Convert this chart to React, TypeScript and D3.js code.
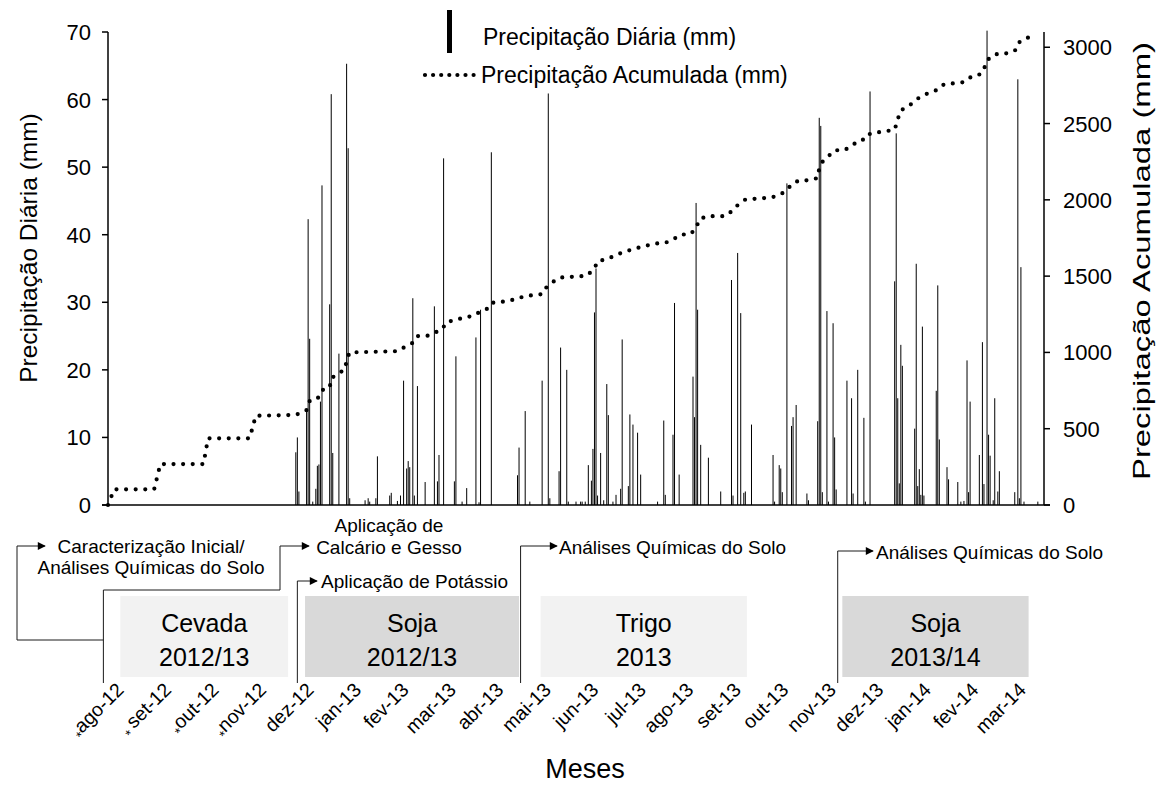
import React, { useEffect } from "react";
import * as d3 from "d3";

// ---------------- DATA ----------------
const dailyDates = [
  "2012-12-01","2012-12-02","2012-12-03","2012-12-08","2012-12-09","2012-12-10","2012-12-12","2012-12-14","2012-12-15","2012-12-16",
  "2012-12-17","2012-12-18","2012-12-23","2012-12-24","2012-12-25","2012-12-29","2013-01-03","2013-01-04","2013-01-05","2013-01-15",
  "2013-01-17","2013-01-18","2013-01-22","2013-01-23","2013-01-31","2013-02-01","2013-02-05","2013-02-07","2013-02-09","2013-02-11",
  "2013-02-12","2013-02-13","2013-02-15","2013-02-16","2013-02-18","2013-02-23","2013-03-01","2013-03-03","2013-03-04","2013-03-07",
  "2013-03-14","2013-03-15","2013-03-19","2013-03-22","2013-03-28","2013-03-30","2013-03-31","2013-04-07","2013-04-24","2013-04-25",
  "2013-04-29","2013-05-02","2013-05-10","2013-05-14","2013-05-15","2013-05-21","2013-05-22","2013-05-26","2013-05-27","2013-06-01",
  "2013-06-04","2013-06-05","2013-06-07","2013-06-09","2013-06-11","2013-06-12","2013-06-13","2013-06-14","2013-06-15","2013-06-17",
  "2013-06-19","2013-06-21","2013-06-22","2013-06-25","2013-06-27","2013-06-30","2013-07-01","2013-07-05","2013-07-06","2013-07-08",
  "2013-07-11","2013-07-13","2013-07-24","2013-07-28","2013-07-29","2013-08-03","2013-08-04","2013-08-07","2013-08-16","2013-08-17",
  "2013-08-18","2013-08-19","2013-08-21","2013-08-26","2013-09-03","2013-09-10","2013-09-11","2013-09-14","2013-09-16","2013-09-18",
  "2013-09-19","2013-09-23","2013-10-07","2013-10-08","2013-10-11","2013-10-12","2013-10-13","2013-10-16","2013-10-19","2013-10-20",
  "2013-10-22","2013-10-29","2013-10-30","2013-11-05","2013-11-06","2013-11-07","2013-11-08","2013-11-11","2013-11-12","2013-11-15",
  "2013-11-16","2013-11-17","2013-11-24","2013-11-27","2013-11-28","2013-12-01","2013-12-05","2013-12-06","2013-12-09","2013-12-25",
  "2013-12-26","2013-12-27","2013-12-28","2013-12-29","2013-12-30","2014-01-07","2014-01-08","2014-01-09","2014-01-10","2014-01-11",
  "2014-01-12","2014-01-13","2014-01-21","2014-01-22","2014-01-23","2014-01-28","2014-01-29","2014-02-04","2014-02-06","2014-02-08",
  "2014-02-10","2014-02-11","2014-02-12","2014-02-18","2014-02-20","2014-02-21","2014-02-23","2014-02-24","2014-02-25","2014-02-27",
  "2014-02-28","2014-03-02","2014-03-03","2014-03-13","2014-03-15","2014-03-16","2014-03-17","2014-03-19","2014-03-28"
];
const dailyValues = [
  7.8, 10, 2, 14.2, 42.3, 24.6, 0.5, 2.4, 5.8, 6,
  15.3, 47.3, 29.7, 60.8, 7.7, 22.4, 65.3, 52.8, 1, 0.7,
  1, 0.5, 1, 7.2, 1.4, 1.8, 0.6, 1.4, 18.4, 5.4,
  6.5, 5.6, 30.6, 1.4, 17.6, 3.4, 29.4, 3.5, 7.4, 51.3,
  3.5, 22, 0.5, 2.5, 24.8, 0.4, 28.9, 52.2, 4.4, 8.5,
  13.9, 0.5, 18.4, 60.9, 1, 5, 23.3, 20, 0.5, 0.5,
  0.5, 0.5, 0.5, 5.9, 3.6, 8.3, 28.5, 35, 1.4, 7.7,
  0.7, 17.9, 13.3, 0.5, 1.5, 2.4, 24.5, 2.8, 13.4, 11.9,
  10.7, 4.5, 0.5, 12.5, 1.5, 10.4, 29.9, 4.5, 19, 13,
  44.7, 28.9, 8.9, 7, 2, 33.3, 1.4, 37.3, 28.4, 1.8,
  2, 11.9, 7.4, 0.5, 5.9, 5.4, 1.9, 47.6, 11.7, 13,
  14.8, 1.7, 0.7, 12.4, 57.3, 56.1, 1.9, 28.7, 0.5, 26.9,
  10, 2.3, 18.4, 15.8, 1.7, 20, 12.9, 0.5, 61.2, 33.1,
  55, 15.8, 3.2, 23.7, 20.6, 11.3, 35.7, 2.8, 5.3, 1.5,
  26.4, 1.4, 16.9, 32.5, 9.7, 5.6, 3.8, 3.4, 0.5, 0.6,
  21.4, 1.9, 15.3, 7.4, 24.1, 3.1, 70.2, 10.4, 7.3, 0.7,
  15.8, 2, 5, 1.9, 63, 1, 35.2, 0.5, 0.5
];

const cumDates = [
  "2012-08-01","2012-08-05","2012-08-31","2012-09-04","2012-10-02","2012-10-05","2012-11-01","2012-11-05","2012-12-01","2012-12-08",
  "2012-12-10","2012-12-15","2012-12-18","2012-12-23","2012-12-24","2012-12-28","2013-01-02","2013-01-03","2013-01-05","2013-02-05",
  "2013-02-10","2013-02-15","2013-02-18","2013-02-24","2013-03-01","2013-03-06","2013-03-09","2013-03-15","2013-03-20","2013-03-26",
  "2013-03-30","2013-04-04","2013-04-07","2013-04-18","2013-04-24","2013-04-29","2013-05-10","2013-05-13","2013-05-17","2013-05-22",
  "2013-06-08","2013-06-13","2013-06-15","2013-06-21","2013-06-26","2013-07-01","2013-07-06","2013-07-12","2013-07-18","2013-07-23",
  "2013-07-29","2013-08-03","2013-08-08","2013-08-14","2013-08-18","2013-08-20","2013-08-25","2013-09-06","2013-09-11","2013-09-14",
  "2013-09-19","2013-10-06","2013-10-12","2013-10-16","2013-10-19","2013-10-24","2013-10-30","2013-11-05","2013-11-06","2013-11-08",
  "2013-11-12","2013-11-16","2013-11-22","2013-11-27","2013-12-01","2013-12-07","2013-12-09","2013-12-25","2013-12-27","2013-12-29",
  "2014-01-03","2014-01-07","2014-01-11","2014-01-16","2014-01-22","2014-01-26","2014-02-07","2014-02-11","2014-02-17","2014-02-21",
  "2014-02-22","2014-02-26","2014-03-03","2014-03-09","2014-03-14","2014-03-16","2014-03-21","2014-03-27"
];
const cumValues = [
  0, 103, 103, 268, 268, 437, 437, 585, 590, 622,
  681, 694, 753, 768, 830, 858, 889, 950, 1000, 1008,
  1037, 1063, 1107, 1107, 1128, 1151, 1200, 1212, 1229, 1238,
  1262, 1284, 1325, 1336, 1354, 1369, 1382, 1430, 1462, 1491,
  1502, 1550, 1598, 1611, 1633, 1655, 1670, 1688, 1703, 1714,
  1718, 1740, 1773, 1773, 1812, 1871, 1893, 1893, 1932, 1965,
  2002, 2015, 2037, 2063, 2102, 2128, 2128, 2143, 2205, 2248,
  2286, 2325, 2325, 2351, 2386, 2401, 2434, 2459, 2528, 2587,
  2613, 2648, 2678, 2700, 2722, 2757, 2770, 2800, 2813, 2847,
  2901, 2944, 2960, 2960, 2984, 3033, 3063, 3063
];

const monthLabels = [
  "*ago-12","* set-12","*out-12","*nov-12","dez-12","jan-13","fev-13","mar-13","abr-13","mai-13",
  "jun-13","jul-13","ago-13","set-13","out-13","nov-13","dez-13","jan-14","fev-14","mar-14"
];
// dates of the first and last labelled category on the axis
const firstLabelDate = "2012-08-12";
const lastLabelDate = "2014-03-21";

const leftTicks = [0, 10, 20, 30, 40, 50, 60, 70];
const rightTicks = [0, 500, 1000, 1500, 2000, 2500, 3000];

const cropNames = ["Cevada", "Soja", "Trigo", "Soja"];
const cropSeasons = ["2012/13", "2012/13", "2013", "2013/14"];
const cropStarts = ["2012-08-09", "2012-12-07", "2013-05-09", "2013-11-21"];
const cropEnds = ["2012-11-26", "2013-04-25", "2013-09-20", "2014-03-22"];
const cropFills = ["#f2f2f2", "#d9d9d9", "#f2f2f2", "#d9d9d9"];

const eventDates = ["2012-07-29", "2012-07-29", "2012-12-02", "2013-04-26", "2013-11-18"];
const eventLabels = [
  ["Caracterização Inicial/", "Análises Químicas do Solo"],
  ["Aplicação de", "Calcário e Gesso"],
  ["Aplicação de Potássio"],
  ["Análises Químicas do Solo"],
  ["Análises Químicas do Solo"]
];

// ---------------- CHART ----------------
const FONT = "'Liberation Sans', Arial, Helvetica, sans-serif";
const parse = d3.utcParse("%Y-%m-%d");
const P = { left: 108, right: 1044, top: 32, bottom: 505 };

export default function App() {
  useEffect(() => {
    document.body.style.margin = "0";
    document.body.style.overflow = "hidden";
  }, []);

  const x = d3.scaleUtc()
    .domain([parse("2012-08-01") as Date, parse("2014-04-01") as Date])
    .range([P.left, P.right]);
  const yL = d3.scaleLinear().domain([0, 70]).range([P.bottom, P.top]);
  const yR = d3.scaleLinear().domain([0, 3100]).range([P.bottom, P.top]);
  const xLab = d3.scalePoint<string>()
    .domain(monthLabels)
    .range([x(parse(firstLabelDate) as Date), x(parse(lastLabelDate) as Date)]);

  const cumPts: [Date, number][] = cumDates.map((d, i) => [parse(d) as Date, cumValues[i]]);
  const cumPath = d3.line<[Date, number]>().x(d => x(d[0])).y(d => yR(d[1]))(cumPts) || "";

  const ex = eventDates.map(d => x(parse(d) as Date));
  const conn = "#1a1a1a";

  return (
    <div style={{ position: "absolute", left: 0, top: 0 }}>
      <svg width={1169} height={787} fontFamily={FONT} style={{ display: "block" }}>
        <defs>
          <marker id="arr" viewBox="0 0 10 10" refX="9" refY="5" markerWidth="9" markerHeight="8"
            markerUnits="userSpaceOnUse" orient="auto">
            <path d="M0,0 L10,5 L0,10 z" fill="#000" />
          </marker>
        </defs>
        <rect width={1169} height={787} fill="#fff" />

        {/* daily bars */}
        <g>
          {dailyDates.map((d, i) => {
            const xx = x(parse(d) as Date);
            return (
              <line key={i} x1={xx} x2={xx} y1={yL(0)} y2={yL(dailyValues[i])}
                stroke="#000" strokeWidth={1} />
            );
          })}
        </g>

        {/* cumulative dotted line */}
        <path d={cumPath} fill="none" stroke="#000" strokeWidth={4.2}
          strokeLinecap="round" strokeDasharray="0 9.6" />

        {/* axes */}
        <line x1={P.left} x2={P.left} y1={P.top} y2={P.bottom} stroke="#000" strokeWidth={1.5} />
        <line x1={P.right} x2={P.right} y1={P.top} y2={P.bottom} stroke="#000" strokeWidth={1.5} />
        <line x1={P.left - 6} x2={P.right + 6} y1={P.bottom} y2={P.bottom} stroke="#000" strokeWidth={1.5} />
        {leftTicks.map(t => (
          <g key={"l" + t}>
            <line x1={P.left - 6} x2={P.left} y1={yL(t)} y2={yL(t)} stroke="#000" strokeWidth={1.5} />
            <text x={91} y={yL(t) + 8} textAnchor="end" fontSize={22} fill="#000">{t}</text>
          </g>
        ))}
        {rightTicks.map(t => (
          <g key={"r" + t}>
            <line x1={P.right} x2={P.right + 6} y1={yR(t)} y2={yR(t)} stroke="#000" strokeWidth={1.5} />
            <text x={1063} y={yR(t) + 8} textAnchor="start" fontSize={22} fill="#000">{t}</text>
          </g>
        ))}

        {/* axis titles */}
        <text transform="translate(37,248) rotate(-90)" textAnchor="middle" fontSize={24.5} fill="#000">
          Precipitação Diária (mm)
        </text>
        <text transform="translate(1150,261) rotate(-90)" textAnchor="middle" fontSize={24.5} fill="#000"
          textLength={438} lengthAdjust="spacingAndGlyphs">
          Precipitação Acumulada (mm)
        </text>
        <text x={585} y={778} textAnchor="middle" fontSize={27} fill="#000">Meses</text>

        {/* legend */}
        <rect x={447} y={10} width={5} height={43} fill="#000" />
        <text x={483} y={45} fontSize={23} fill="#000">Precipitação Diária (mm)</text>
        <line x1={425} x2={474} y1={75} y2={75} stroke="#000" strokeWidth={4.2}
          strokeLinecap="round" strokeDasharray="0 8.1" />
        <text x={481} y={83} fontSize={23} fill="#000">Precipitação Acumulada (mm)</text>

        {/* crop boxes */}
        {cropNames.map((c, i) => {
          const x0 = x(parse(cropStarts[i]) as Date);
          const x1 = x(parse(cropEnds[i]) as Date);
          const cx = (x0 + x1) / 2;
          return (
            <g key={"c" + i}>
              <rect x={x0} y={596} width={x1 - x0} height={81} fill={cropFills[i]} />
              <text x={cx} y={632} textAnchor="middle" fontSize={25} fill="#000">{c}</text>
              <text x={cx} y={666} textAnchor="middle" fontSize={25} fill="#000">{cropSeasons[i]}</text>
            </g>
          );
        })}

        {/* event connectors */}
        <path d={`M${ex[0]},683 V640 H17 V546 H45`} fill="none" stroke={conn} strokeWidth={1} markerEnd="url(#arr)" />
        <path d={`M${ex[1]},640 V590 H280 V546 H309`} fill="none" stroke={conn} strokeWidth={1} markerEnd="url(#arr)" />
        <path d={`M${ex[2]},683 V581 H317`} fill="none" stroke={conn} strokeWidth={1} markerEnd="url(#arr)" />
        <path d={`M${ex[3]},683 V546 H557`} fill="none" stroke={conn} strokeWidth={1} markerEnd="url(#arr)" />
        <path d={`M${ex[4]},683 V551 H873`} fill="none" stroke={conn} strokeWidth={1} markerEnd="url(#arr)" />

        <text x={151} y={553} textAnchor="middle" fontSize={19} fill="#000">{eventLabels[0][0]}</text>
        <text x={151} y={574} textAnchor="middle" fontSize={19} fill="#000">{eventLabels[0][1]}</text>
        <text x={389} y={532} textAnchor="middle" fontSize={19} fill="#000">{eventLabels[1][0]}</text>
        <text x={389} y={554} textAnchor="middle" fontSize={19} fill="#000">{eventLabels[1][1]}</text>
        <text x={321} y={588} fontSize={19} fill="#000">{eventLabels[2][0]}</text>
        <text x={559} y={554} fontSize={19} fill="#000">{eventLabels[3][0]}</text>
        <text x={876} y={559} fontSize={19} fill="#000">{eventLabels[4][0]}</text>

        {/* month labels */}
        {monthLabels.map((m, i) => {
          const px = xLab(m) as number;
          const star = m.startsWith("*");
          const rest = star ? m.replace(/^\*\s?/, "") : m;
          const gap = m.startsWith("* ") ? " " : "";
          return (
            <text key={"m" + i} transform={`translate(${px},691) rotate(-45)`} textAnchor="end"
              fontSize={19.5} fill="#000">
              {star ? <tspan fontSize={14} dy={5}>{"*" + gap}</tspan> : null}
              {star ? <tspan dy={-5}>{rest}</tspan> : rest}
            </text>
          );
        })}
      </svg>
    </div>
  );
}
